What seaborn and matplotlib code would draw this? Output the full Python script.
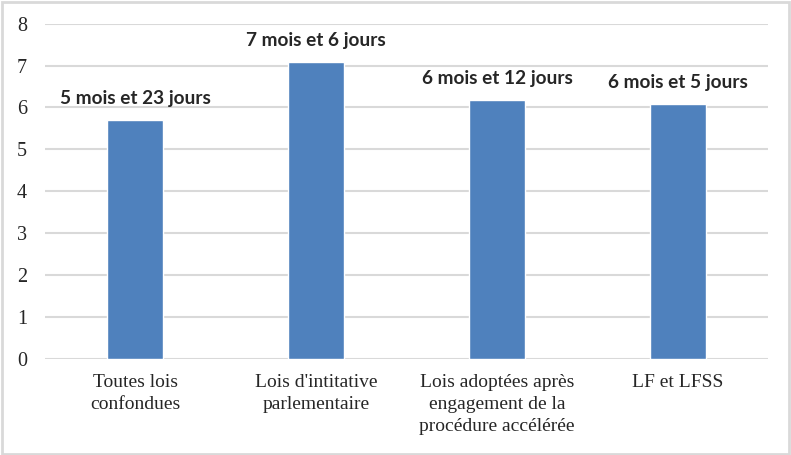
import matplotlib
matplotlib.use("Agg")
import matplotlib.pyplot as plt
import seaborn as sns
import pandas as pd
from matplotlib.patches import Rectangle

# Chart data
categories = [
    "Toutes lois\nconfondues",
    "Lois d'intitative\nparlementaire",
    "Lois adoptées après\nengagement de la\nprocédure accélérée",
    "LF et LFSS",
]
durations = [5.71, 7.09, 6.18, 6.09]
bar_labels = ["5 mois et 23 jours", "7 mois et 6 jours", "6 mois et 12 jours", "6 mois et 5 jours"]

df = pd.DataFrame({"cat": categories, "val": durations})

sns.set_style("white")
plt.rcParams["font.family"] = ["Liberation Serif", "DejaVu Serif"]

fig = plt.figure(figsize=(7.91, 4.55), dpi=100)
ax = fig.add_axes([0.057, 0.211, 0.914, 0.737])

sns.barplot(data=df, x="cat", y="val", color="#4F81BD", saturation=1, width=0.31, ax=ax, zorder=3)

ax.set_ylim(0, 8)
ax.set_yticks(range(0, 9))
ax.yaxis.grid(True, color="#d9d9d9", linewidth=1.5, zorder=0)
ax.set_axisbelow(True)
for s in ax.spines.values():
    s.set_visible(False)
ax.set_xlabel("")
ax.set_ylabel("")
ax.tick_params(axis="y", length=0, pad=13, labelsize=14.5)
ax.tick_params(axis="x", length=0, labelbottom=False)

# category labels drawn by hand so the line spacing sticks
for i, cat in enumerate(categories):
    ax.text(i, -0.045, cat, transform=ax.get_xaxis_transform(), ha="center", va="top",
            fontsize=14, linespacing=1.38)

for i, (v, lab) in enumerate(zip(durations, bar_labels)):
    ax.annotate(lab, (i, v), xytext=(0, 9), textcoords="offset points",
                ha="center", va="bottom", fontsize=13.7, fontweight="bold",
                family=["Lato", "DejaVu Sans"])

# light grey frame around the whole chart
fig.patches.append(Rectangle((0.002, 0.003), 0.995, 0.993, transform=fig.transFigure,
                             fill=False, edgecolor="#d9d9d9", linewidth=2))

fig.savefig("out.png", dpi=100)
